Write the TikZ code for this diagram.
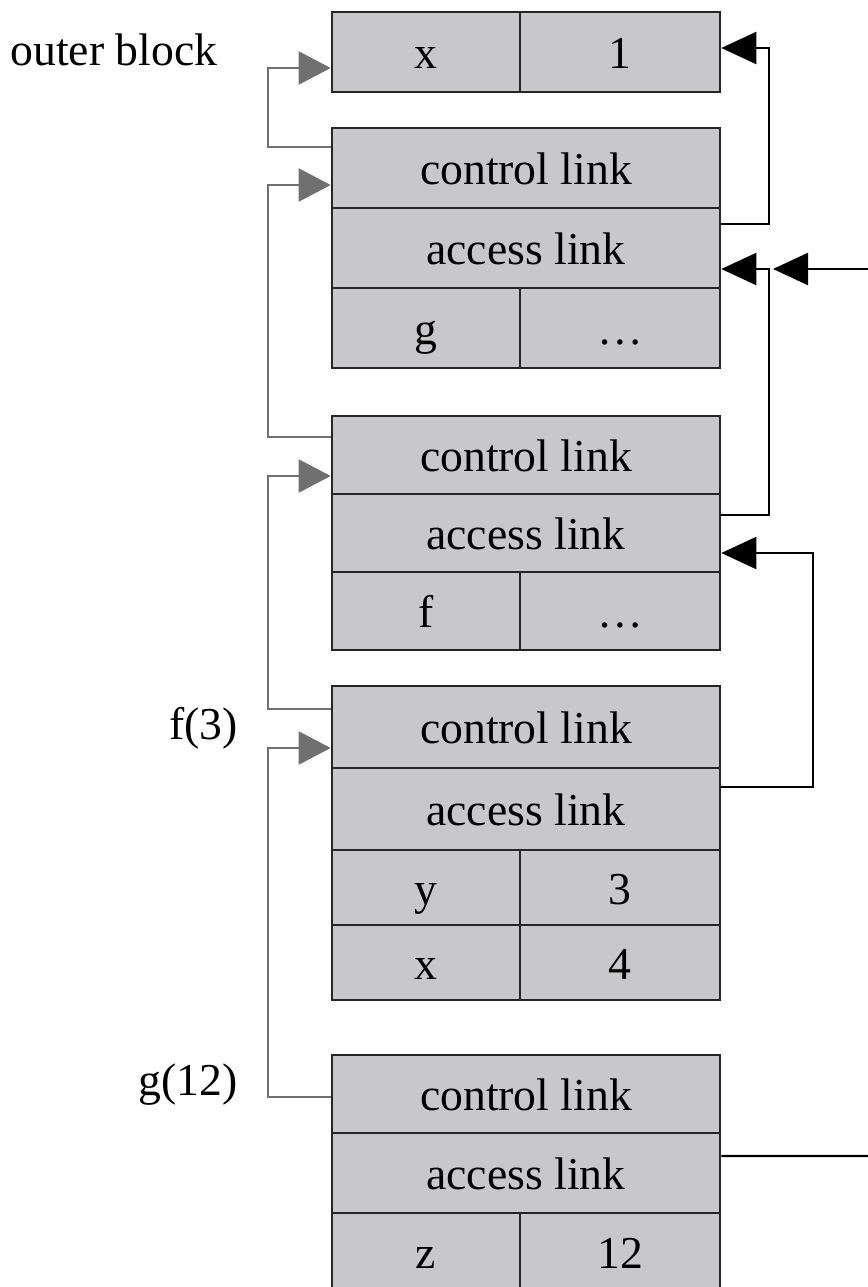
\documentclass[tikz,border=0pt]{standalone}
\usepackage{fontspec}
\setmainfont{Liberation Serif}
\usetikzlibrary{arrows.meta}
\definecolor{cellgray}{RGB}{200,200,202}
\definecolor{linkgray}{RGB}{112,112,112}

\begin{document}
\begin{tikzpicture}[
    fullrow/.style={draw=black!85, line width=1.5pt, fill=cellgray,
                    minimum width=7.76cm, inner sep=0pt,
                    text height=22pt, text depth=3pt,
                    font=\fontsize{26}{30}\selectfont},
    leftcell/.style={fullrow, minimum width=3.76cm},
    rightcell/.style={fullrow, minimum width=4.0cm},
    framelabel/.style={inner sep=0pt, font=\fontsize{26}{30}\selectfont},
    ctrl/.style={draw=linkgray, line width=1.3pt,
                 -{Triangle[length=0.64cm,width=0.66cm]}},
    acc/.style={draw=black, line width=1.3pt,
                -{Triangle[length=0.7cm,width=0.64cm]}},
    accline/.style={draw=black, line width=1.3pt}
]
\useasboundingbox (0,0) rectangle (17.34,-25.74);

% horizontal spacing
\def\ctrlgap{1.26cm}
\def\accgapA{0.96cm}
\def\accgapB{1.84cm}

% column centres
\def\colM{10.52}
\def\colL{8.52}
\def\colR{12.40}

% --- OUTER BLOCK ---
\node[leftcell,  minimum height=1.6cm] (b1x) at (\colL,-1.04) {x};
\node[rightcell, minimum height=1.6cm] (b1v) at (\colR,-1.04) {1};
\node[framelabel, anchor=west] (outerlbl) at (0.2,-1.0) {outer block};

% --- FRAME OF g ---
\node[fullrow,   minimum height=1.6cm] (b2c) at (\colM,-3.36) {control link};
\node[fullrow,   minimum height=1.6cm] (b2a) at (\colM,-4.96) {access link};
\node[leftcell,  minimum height=1.6cm] (b2k) at (\colL,-6.56) {g};
\node[rightcell, minimum height=1.6cm] (b2v) at (\colR,-6.56) {…};

% --- FRAME OF f ---
\node[fullrow,   minimum height=1.56cm] (b3c) at (\colM,-9.10) {control link};
\node[fullrow,   minimum height=1.56cm] (b3a) at (\colM,-10.66) {access link};
\node[leftcell,  minimum height=1.56cm] (b3k) at (\colL,-12.22) {f};
\node[rightcell, minimum height=1.56cm] (b3v) at (\colR,-12.22) {…};

% --- f(3) ---
\node[fullrow,   minimum height=1.64cm] (b4c) at (\colM,-14.54) {control link};
\node[fullrow,   minimum height=1.64cm] (b4a) at (\colM,-16.18) {access link};
\node[leftcell,  minimum height=1.5cm]  (b4y) at (\colL,-17.75) {y};
\node[rightcell, minimum height=1.5cm]  (b4yv) at (\colR,-17.75) {3};
\node[leftcell,  minimum height=1.5cm]  (b4x) at (\colL,-19.25) {x};
\node[rightcell, minimum height=1.5cm]  (b4xv) at (\colR,-19.25) {4};
\node[framelabel, anchor=east] (flbl) at (4.76,-14.56) {f(3)};

% --- g(12) ---
\node[fullrow,   minimum height=1.56cm] (b5c) at (\colM,-21.88) {control link};
\node[fullrow,   minimum height=1.6cm]  (b5a) at (\colM,-23.46) {access link};
\node[leftcell,  minimum height=1.56cm] (b5z) at (\colL,-25.04) {z};
\node[rightcell, minimum height=1.56cm] (b5v) at (\colR,-25.04) {12};
\node[framelabel, anchor=east] (glbl) at (4.76,-21.70) {g(12)};

% --- CONTROL LINKS ---
\draw[ctrl] ([yshift=.42cm]b2c.west) -- ++(-\ctrlgap,0)
            |- ([yshift=-.32cm]b1x.west);
\draw[ctrl] ([yshift=.36cm]b3c.west) -- ++(-\ctrlgap,0)
            |- ([yshift=-.34cm]b2c.west);
\draw[ctrl] ([yshift=.36cm]b4c.west) -- ++(-\ctrlgap,0)
            |- ([yshift=-.42cm]b3c.west);
\draw[ctrl] ([yshift=-.06cm]b5c.west) -- ++(-\ctrlgap,0)
            |- ([yshift=-.42cm]b4c.west);

% --- ACCESS LINKS ---
\draw[acc] ([yshift=.48cm]b2a.east) -- ++(\accgapA,0)
           |- ([yshift=.08cm]b1v.east);
\draw[acc] ([yshift=.36cm]b3a.east) -- ++(\accgapA,0)
           |- ([yshift=-.42cm]b2a.east);
\draw[acc] ([yshift=.44cm]b4a.east) -- ++(\accgapB,0)
           |- ([yshift=-.40cm]b3a.east);

\coordinate (edgeA) at (17.5,-5.38);
\coordinate (joinA) at (15.46,-5.38);
\draw[acc] (edgeA) -- (joinA);

\coordinate (edgeB) at (17.5,-23.12);
\draw[accline] ([yshift=.34cm]b5a.east) -- (edgeB);

\end{tikzpicture}
\end{document}
